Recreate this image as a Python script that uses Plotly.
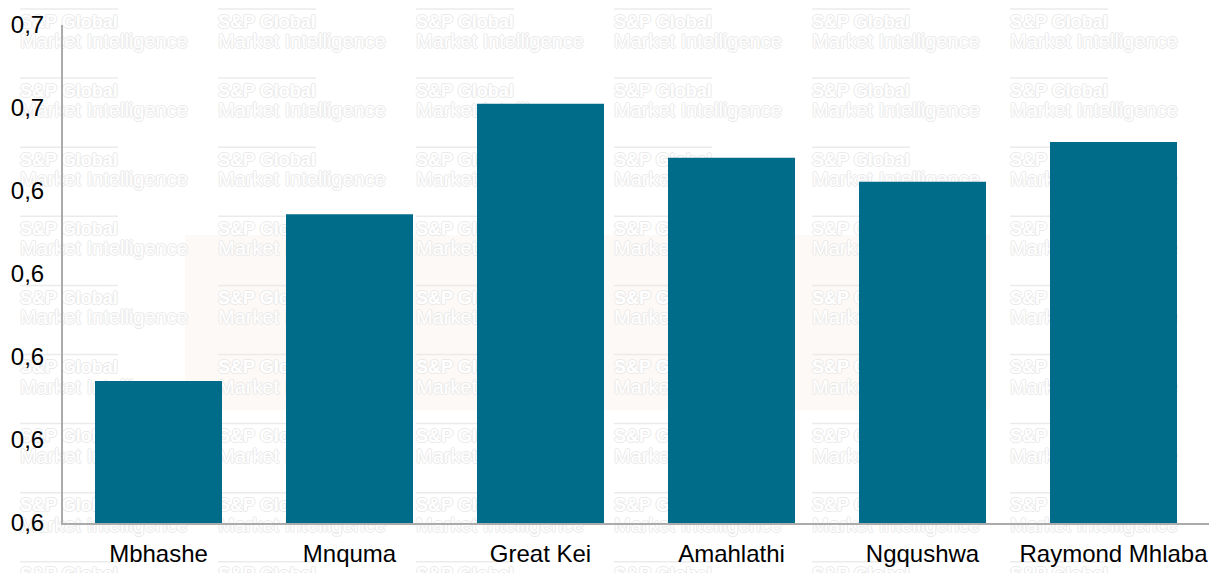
import plotly.graph_objects as go

# Municipality values
municipalities = ["Mbhashe", "Mnquma", "Great Kei", "Amahlathi", "Ngqushwa", "Raymond Mhlaba"]
values = [0.6171, 0.6372, 0.6505, 0.6440, 0.6411, 0.6459]

# Y axis ticks (labels shown with one decimal, comma separator)
y_ticks = [0.60, 0.61, 0.62, 0.63, 0.64, 0.65, 0.66]
y_tick_labels = ["0,6", "0,6", "0,6", "0,6", "0,6", "0,7", "0,7"]

W, H = 1209, 573
BAR_COLOR = "#006c89"
AXIS_COLOR = "#ababab"
FONT = "Liberation Sans, Arial, sans-serif"

# Watermark tiling (pixel grid over the full page)
wm_cols = [20 + 198 * i for i in range(6)]
wm_rows = [9 + 69.1 * j for j in range(9)]

fig = go.Figure()

# Watermark layer, drawn on a full-page pixel subplot below the bars
oc = "#eaeaea"
outline = f"-1px 0 {oc}, 1px 0 {oc}, 0 -1px {oc}, 0 1px {oc}"
lx, ly = [], []
tx1, ty1, tx2, ty2 = [], [], [], []
for cx in wm_cols:
    for ry in wm_rows:
        lx += [cx, cx + 98, None]
        ly += [ry, ry, None]
        tx1.append(cx)
        ty1.append(ry + 14)
        tx2.append(cx)
        ty2.append(ry + 34)

fig.add_trace(go.Scatter(x=lx, y=ly, mode="lines", line=dict(color="#ebebeb", width=1.5),
                         xaxis="x", yaxis="y", hoverinfo="skip", showlegend=False))
fig.add_trace(go.Scatter(x=tx1, y=ty1, mode="text", text=["S&P Global"] * len(tx1),
                         textposition="middle right",
                         textfont=dict(family=FONT, size=18, color="#ffffff", weight="bold", shadow=outline),
                         xaxis="x", yaxis="y", hoverinfo="skip", showlegend=False))
fig.add_trace(go.Scatter(x=tx2, y=ty2, mode="text", text=["Market Intelligence"] * len(tx2),
                         textposition="middle right",
                         textfont=dict(family=FONT, size=20, color="#ffffff", shadow=outline),
                         xaxis="x", yaxis="y", hoverinfo="skip", showlegend=False))

# Bars
fig.add_trace(go.Bar(x=municipalities, y=values, marker=dict(color=BAR_COLOR, line=dict(width=0)),
                     xaxis="x2", yaxis="y2", hoverinfo="skip", showlegend=False))

x0 = 63 / W
y0 = (H - 523) / H
y1 = (H - 25) / H

fig.update_layout(
    width=W, height=H,
    margin=dict(l=0, r=0, t=0, b=0, autoexpand=False),
    paper_bgcolor="white", plot_bgcolor="rgba(0,0,0,0)",
    font=dict(family=FONT, size=24, color="#000000"),
    bargap=0.335,
    xaxis=dict(domain=[0, 1], range=[0, W], visible=False, fixedrange=True),
    yaxis=dict(domain=[0, 1], range=[H, 0], visible=False, fixedrange=True),
    xaxis2=dict(domain=[x0, 1], anchor="y2", showline=True, linecolor=AXIS_COLOR, linewidth=2,
                showgrid=False, zeroline=False, ticks="", ticklabelstandoff=8, automargin=False,
                tickfont=dict(family=FONT, size=24, color="#000000")),
    yaxis2=dict(domain=[y0, y1], anchor="x2", range=[0.60, 0.66], showline=True,
                linecolor=AXIS_COLOR, linewidth=2, showgrid=False, zeroline=False,
                ticks="", tickvals=y_ticks, ticktext=y_tick_labels, ticklabelstandoff=12,
                automargin=False, tickfont=dict(family=FONT, size=24, color="#000000")),
    shapes=[dict(type="rect", xref="paper", yref="paper", layer="below",
                 x0=185 / W, x1=990 / W, y0=(H - 410) / H, y1=(H - 235) / H,
                 fillcolor="#fdf9f6", line=dict(width=0))],
)

fig.write_html("out.html")
